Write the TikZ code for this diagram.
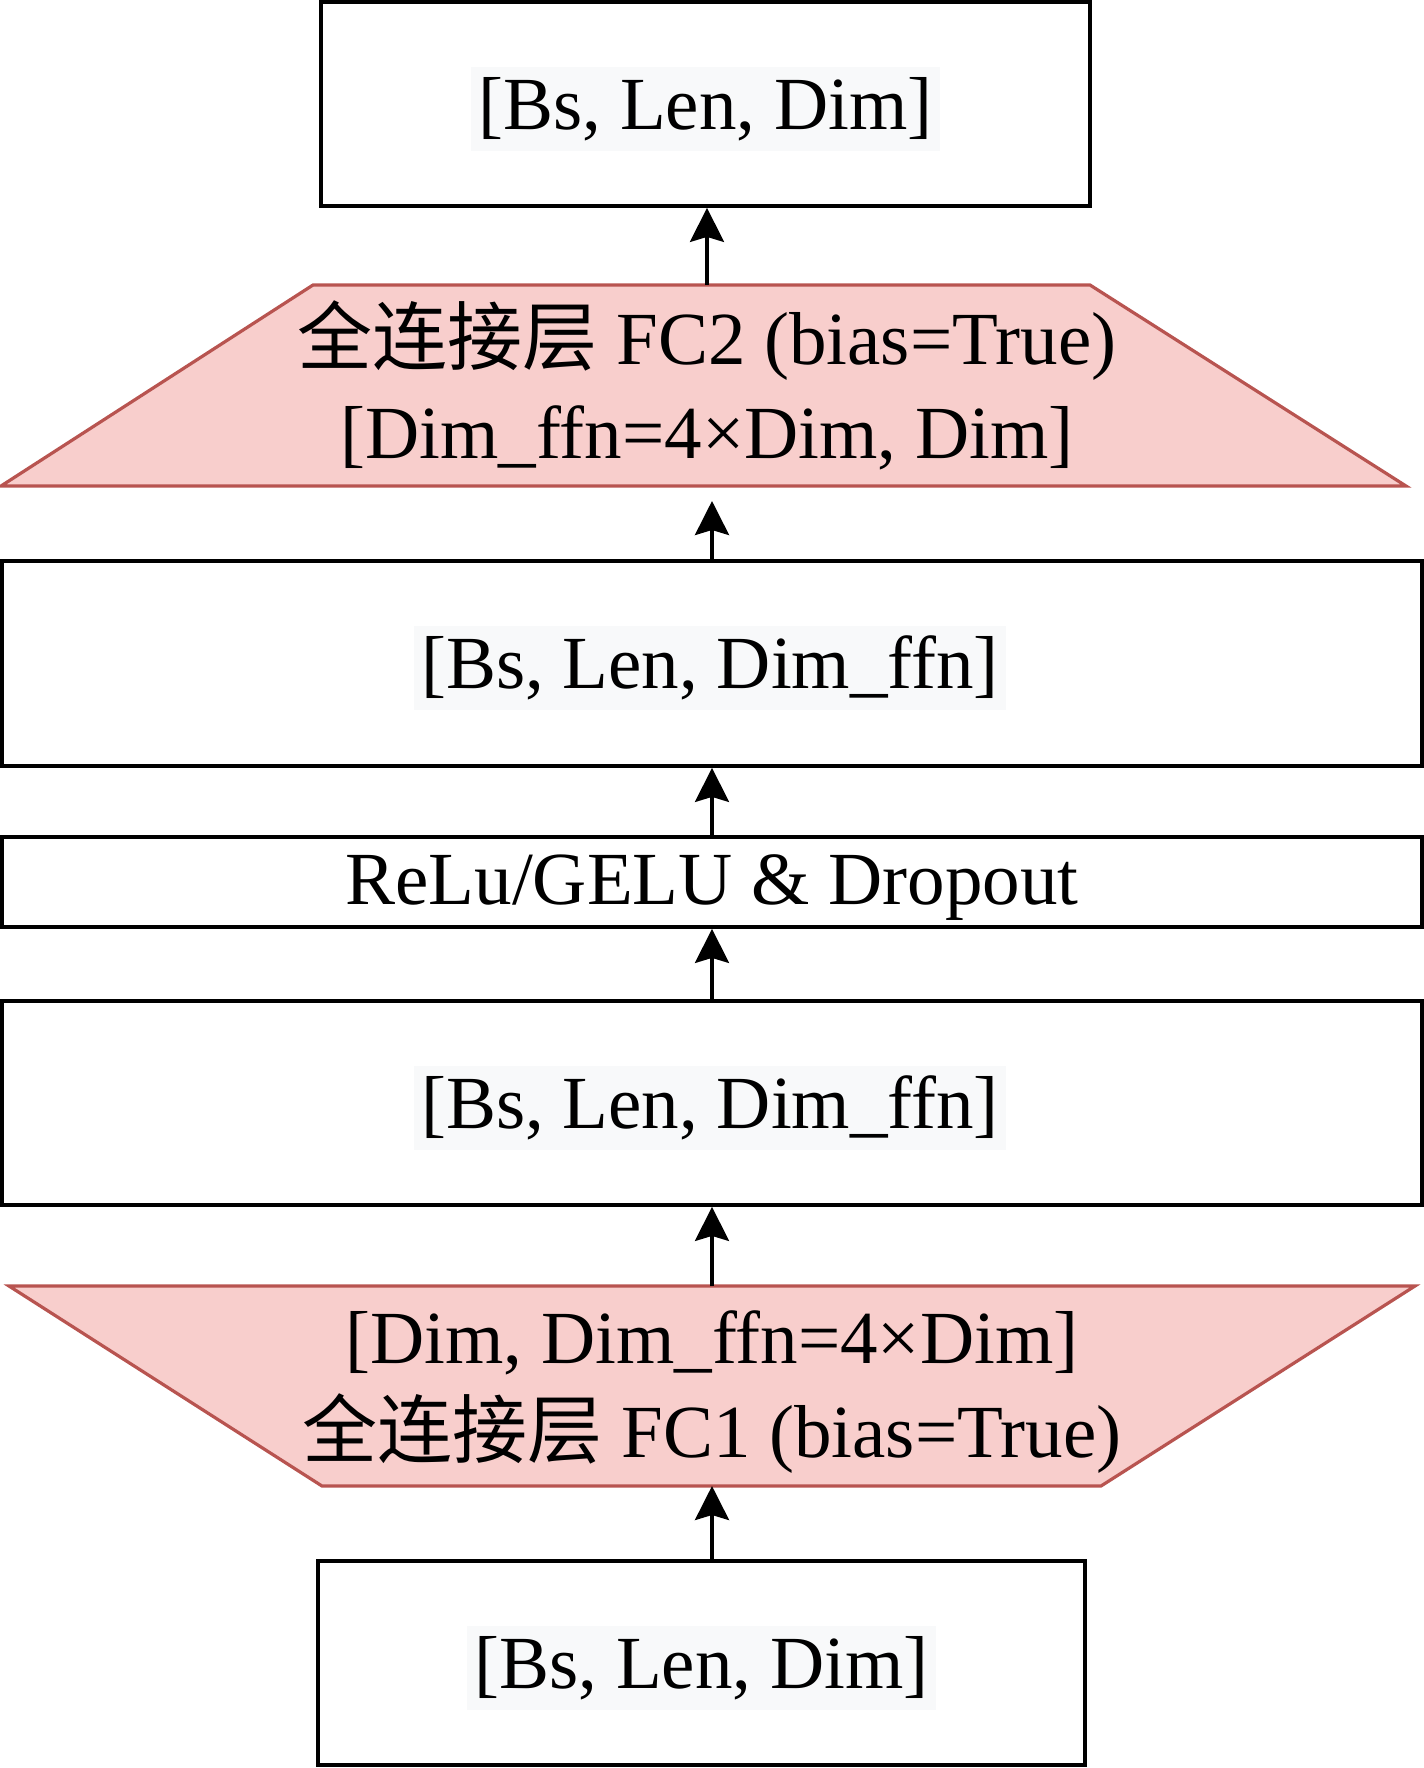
\documentclass[tikz,border=0pt]{standalone}
\usepackage{fontspec}
\setmainfont{Liberation Serif}
\newfontfamily\cjk{Noto Sans CJK SC}
\usetikzlibrary{arrows.meta}
\definecolor{redfill}{HTML}{F8CECC}
\definecolor{redline}{HTML}{B85450}
\definecolor{hl}{HTML}{F8F9FA}
\begin{document}
\begin{tikzpicture}[x=0.5pt,y=-0.5pt,
  every node/.style={font=\fontsize{37.5pt}{47pt}\selectfont},
  box/.style={draw,line width=1.9pt,inner sep=0pt,minimum height=102pt},
  lbl/.style={fill=hl,inner xsep=3.5pt,inner ysep=0pt,minimum height=42pt},
  trap/.style={fill=redfill,draw=redline,line width=1.6pt},
  conn/.style={-{Stealth[length=17pt,width=17pt,inset=2.5pt]},line width=1.8pt}]
\useasboundingbox (0,0) rectangle (1424,1768);
% top output box
\node[box,minimum width=384.5pt] (out) at (705.5,104) {};
\node[lbl] (outl) at (705.5,109) {[Bs, Len, Dim]};
% FC2 trapezoid
\draw[trap] (313,285) -- (1090,285) -- (1406,486) -- (1,486) -- cycle;
\node[align=center,inner sep=0pt] (fc2) at (707,385.5) {{\cjk 全连接层} FC2 (bias=True)\\\relax [Dim\_ffn=4×Dim, Dim]};
\coordinate (fc2t) at (707,285);
\coordinate (fc2b) at (712,501);
% box 3
\node[box,minimum width=710pt,minimum height=102.5pt] (h2) at (712,663.5) {};
\node[lbl] (h2l) at (710,668) {[Bs, Len, Dim\_ffn]};
% activation
\node[box,minimum width=710pt,minimum height=45pt] (act) at (712,882) {};
\node[inner sep=0pt] (actl) at (712,888) {ReLu/GELU \& Dropout};
% box 5
\node[box,minimum width=710pt] (h1) at (712,1103) {};
\node[lbl] (h1l) at (710,1108) {[Bs, Len, Dim\_ffn]};
% FC1 trapezoid
\draw[trap] (9,1286) -- (1415,1286) -- (1101,1486) -- (322,1486) -- cycle;
\node[align=center,inner sep=0pt] (fc1) at (712,1392) {[Dim, Dim\_ffn=4×Dim]\\{\cjk 全连接层} FC1 (bias=True)};
\coordinate (fc1t) at (712,1286);
\coordinate (fc1b) at (712,1486);
% input box
\node[box,minimum width=383.5pt] (in) at (701.5,1663) {};
\node[lbl] (inl) at (701.5,1668) {[Bs, Len, Dim]};
% connectors
\draw[conn] (fc2t) -- (fc2t |- out.south);
\draw[conn] (h2.north) -- (fc2b);
\draw[conn] (act.north) -- (h2.south);
\draw[conn] (h1.north) -- (act.south);
\draw[conn] (fc1t) -- (h1.south);
\draw[conn] (fc1b |- in.north) -- (fc1b);
\end{tikzpicture}
\end{document}
